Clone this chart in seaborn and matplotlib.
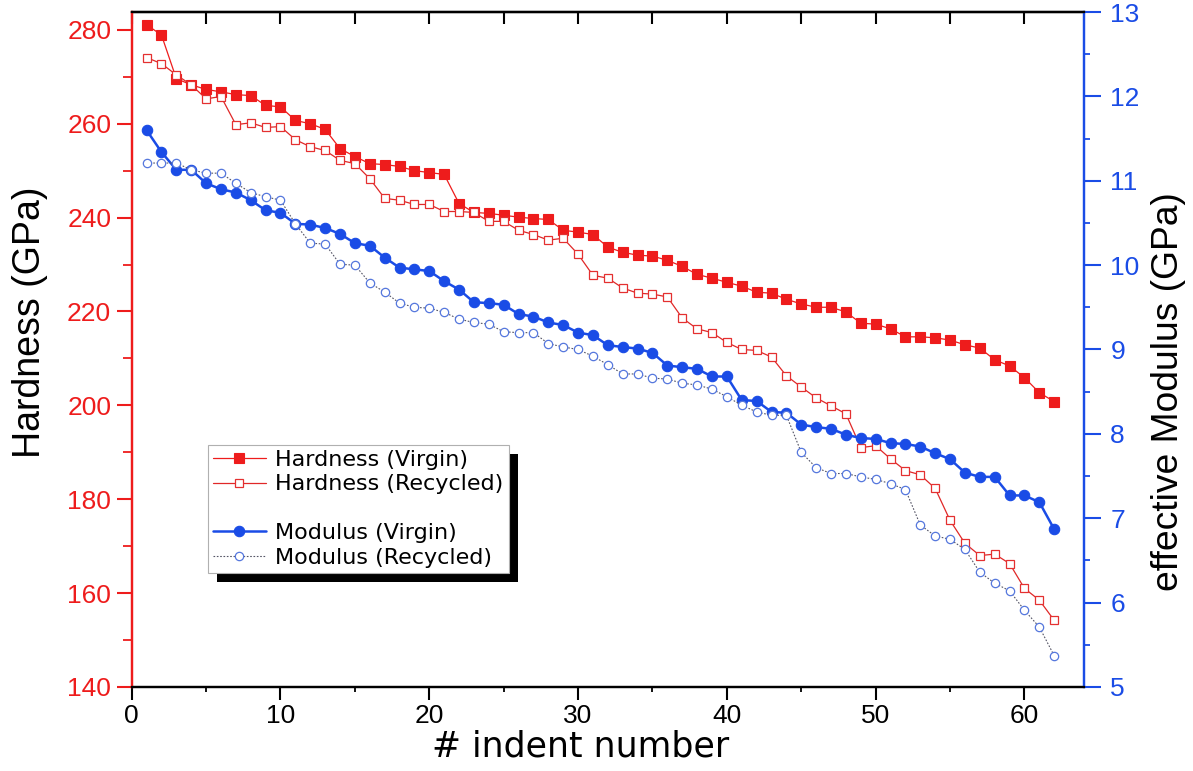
import numpy as np
import pandas as pd
import matplotlib
matplotlib.use("Agg")
import matplotlib.pyplot as plt
import seaborn as sns
from matplotlib.ticker import MultipleLocator
from matplotlib.patches import Rectangle
from matplotlib.lines import Line2D
from matplotlib.transforms import offset_copy

sns.set_style("ticks")
plt.rcParams["font.family"] = ["Liberation Sans", "DejaVu Sans"]
plt.rcParams.update({"text.color": "black", "axes.labelcolor": "black",
                     "xtick.color": "black", "ytick.color": "black"})

RED = "#ee1c1c"
BLUE = "#1a4ce6"
WIDE = ["DejaVu Sans"]

# indent numbers 1..62
indent = list(range(1, 63))

hard_virgin = [281.1, 278.9, 269.6, 268.3, 267.3, 266.8, 266.2, 266.0, 263.9, 263.6,
               260.7, 260.0, 258.8, 254.7, 253.0, 251.5, 251.3, 250.9, 250.0, 249.6,
               249.2, 243.0, 241.1, 240.9, 240.5, 240.1, 239.8, 239.6, 237.3, 236.9,
               236.4, 233.7, 232.6, 232.0, 231.8, 230.9, 229.6, 227.9, 227.1, 226.2,
               225.4, 224.1, 223.9, 222.6, 221.6, 220.9, 220.9, 219.9, 217.5, 217.3,
               216.3, 214.6, 214.6, 214.4, 213.9, 212.9, 212.2, 209.7, 208.4, 205.9,
               202.7, 200.8]
hard_recycled = [274.1, 272.8, 270.4, 268.3, 265.3, 265.8, 259.8, 260.2, 259.2, 259.4,
                 256.6, 255.1, 254.3, 252.2, 251.5, 248.3, 244.1, 243.7, 242.8, 242.8,
                 241.3, 241.3, 241.1, 239.2, 239.2, 237.3, 236.4, 235.2, 235.6, 232.2,
                 227.7, 227.1, 225.0, 223.9, 223.7, 223.1, 218.6, 216.3, 215.5, 213.4,
                 211.9, 211.7, 210.3, 206.3, 203.9, 201.6, 199.9, 198.2, 191.0, 191.4,
                 188.6, 186.1, 185.2, 182.3, 175.5, 170.6, 168.0, 168.3, 166.3, 161.0,
                 158.5, 154.2]
mod_virgin = [11.60, 11.34, 11.13, 11.13, 10.97, 10.90, 10.86, 10.77, 10.65, 10.62,
              10.49, 10.48, 10.44, 10.37, 10.26, 10.23, 10.09, 9.97, 9.95, 9.93,
              9.81, 9.71, 9.56, 9.55, 9.53, 9.42, 9.39, 9.32, 9.29, 9.20,
              9.17, 9.05, 9.03, 9.01, 8.96, 8.81, 8.79, 8.77, 8.68, 8.68,
              8.40, 8.39, 8.26, 8.25, 8.11, 8.08, 8.06, 7.99, 7.95, 7.94,
              7.89, 7.88, 7.85, 7.77, 7.70, 7.54, 7.49, 7.49, 7.27, 7.27,
              7.19, 6.87]
mod_recycled = [11.21, 11.21, 11.21, 11.13, 11.09, 11.09, 10.97, 10.86, 10.81, 10.77,
                10.49, 10.26, 10.25, 10.01, 10.00, 9.79, 9.68, 9.55, 9.50, 9.49,
                9.44, 9.36, 9.32, 9.30, 9.21, 9.20, 9.20, 9.07, 9.03, 9.00,
                8.92, 8.82, 8.71, 8.71, 8.66, 8.65, 8.60, 8.58, 8.53, 8.44,
                8.34, 8.26, 8.22, 8.22, 7.78, 7.60, 7.53, 7.53, 7.49, 7.46,
                7.41, 7.34, 6.92, 6.79, 6.75, 6.63, 6.36, 6.23, 6.14, 5.91,
                5.71, 5.37]

labels = ["Hardness (Virgin)", "Hardness (Recycled)", "Modulus (Virgin)", "Modulus (Recycled)"]

df = pd.DataFrame({"indent": indent, "hv": hard_virgin, "hr": hard_recycled,
                   "mv": mod_virgin, "mr": mod_recycled})

fig, ax = plt.subplots(figsize=(11.93, 7.71), dpi=100)
fig.subplots_adjust(left=0.1104, right=0.9086, bottom=0.109, top=0.9844)
ax2 = ax.twinx()

sns.lineplot(data=df, x="indent", y="hv", ax=ax, color=RED, lw=0.9, marker="s", ms=7.5,
             markerfacecolor=RED, markeredgecolor=RED, mew=0.8, label=labels[0], legend=False)
sns.lineplot(data=df, x="indent", y="hr", ax=ax, color="#e02828", lw=0.9, marker="s", ms=5.8,
             markerfacecolor="white", markeredgecolor="#e43030", mew=0.9, label=labels[1], legend=False)
sns.lineplot(data=df, x="indent", y="mv", ax=ax2, color=BLUE, lw=1.8, marker="o", ms=7.5,
             markerfacecolor=BLUE, markeredgecolor=BLUE, mew=0.8, label=labels[2], legend=False)
sns.lineplot(data=df, x="indent", y="mr", ax=ax2, color="#555566", lw=0.8, ls=(0, (1.5, 1.5)),
             marker="o", ms=6, markerfacecolor="white", markeredgecolor="#5577dd", mew=0.9,
             label=labels[3], legend=False)

ax.set_xlim(0, 64)
ax.set_ylim(140, 283.8)
ax2.set_ylim(5, 13)

ax.xaxis.set_major_locator(MultipleLocator(10))
ax.xaxis.set_minor_locator(MultipleLocator(5))
ax.yaxis.set_major_locator(MultipleLocator(20))
ax.yaxis.set_minor_locator(MultipleLocator(10))
ax2.yaxis.set_major_locator(MultipleLocator(1))
ax2.yaxis.set_minor_locator(MultipleLocator(0.5))

# spines
for a in (ax, ax2):
    for s in a.spines.values():
        s.set_linewidth(1.6)
    a.spines["top"].set_color("black")
    a.spines["bottom"].set_color("black")
    a.spines["left"].set_color(RED)
    a.spines["right"].set_color(BLUE)

ax.tick_params(axis="x", which="major", direction="out", length=9.4, width=1.5,
               labelsize=19, pad=3, colors="black")
ax.tick_params(axis="x", which="minor", direction="out", length=3.6, width=1.3)
ax.tick_params(axis="y", which="major", direction="out", length=10.8, width=1.5,
               labelsize=19, pad=4, color=RED, labelcolor=RED)
ax.tick_params(axis="y", which="minor", direction="out", length=6.5, width=1.3, color=RED)
ax2.tick_params(axis="y", which="major", direction="out", length=12, width=1.5,
                labelsize=19, pad=7, color=BLUE, labelcolor=BLUE)
ax2.tick_params(axis="y", which="minor", direction="out", length=4.3, width=1.3, color=BLUE)

top = ax.secondary_xaxis("top")
top.xaxis.set_major_locator(MultipleLocator(10))
top.xaxis.set_minor_locator(MultipleLocator(5))
top.tick_params(which="both", direction="in", length=8.6, width=1.5, labeltop=False)
top.spines["top"].set_linewidth(1.6)

ax.set_xlabel("# indent number", fontsize=25, family=WIDE)
ax.xaxis.set_label_coords(0.471, -0.0625)
ax.set_ylabel("Hardness (GPa)", fontsize=27)
ax.yaxis.set_label_coords(-0.088, 0.541)
ax2.set_ylabel("effective Modulus (GPa)", fontsize=26.8)
ax2.yaxis.set_label_coords(1.07, 0.437)

# legend with a blank row between the groups
h = ax.get_lines()[:2] + [Line2D([], [], ls="none")] + ax2.get_lines()[:2]
lab = labels[:2] + [" "] + labels[2:]
leg = ax2.legend(h, lab, loc="upper left", bbox_to_anchor=(0.08, 0.3585), borderaxespad=0,
                 prop={"family": WIDE, "size": 16}, frameon=True, fancybox=False, framealpha=1,
                 edgecolor="#b0b0b0", handlelength=2.4, handletextpad=0.42,
                 labelspacing=0.2, borderpad=0.22)
leg.get_frame().set_linewidth(0.8)
leg.set_zorder(6)

fig.canvas.draw()
bb = leg.get_window_extent(fig.canvas.get_renderer()).transformed(ax2.transAxes.inverted())
shadow = Rectangle((bb.x0, bb.y0), bb.width, bb.height, facecolor="black", edgecolor="none",
                   transform=offset_copy(ax2.transAxes, fig=fig, x=6.5, y=-6.5, units="points"),
                   zorder=5.5, clip_on=False)
ax2.add_patch(shadow)

fig.savefig("out.png", dpi=100, facecolor="white")
